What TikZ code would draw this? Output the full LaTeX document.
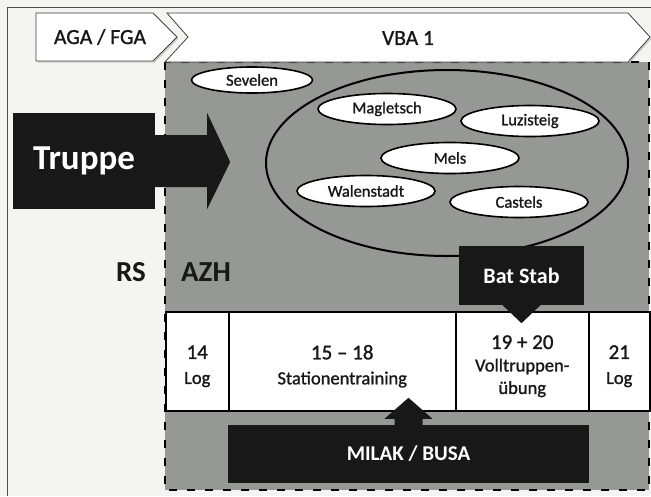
\documentclass[tikz,border=0pt]{standalone}
\usepackage{fontspec}
\setmainfont{Carlito}
\newfontfamily\thickfont{Carlito}[FakeBold=1.2,Ligatures=TeX]
\usetikzlibrary{calc,shapes.geometric,shadows}
\definecolor{paper}{RGB}{244,245,243}
\definecolor{zone}{RGB}{150,152,148}
\definecolor{ink}{RGB}{24,24,24}
\tikzset{
  chevron/.style={draw=black!75, line width=0.8pt, fill=white,
    drop shadow={shadow xshift=1.5pt, shadow yshift=-1.5pt, opacity=.35}},
  place/.style={ellipse, draw=black, line width=1.6pt, fill=white, inner sep=0pt,
    minimum width=138pt, minimum height=31pt, text=ink,
    font=\thickfont\fontsize{16.5}{18}\selectfont,
    drop shadow={shadow xshift=1.2pt, shadow yshift=-1.2pt, opacity=.35}},
  block/.style={fill=ink, text=white, inner sep=0pt,
    font=\bfseries\fontsize{22}{24}\selectfont},
  cell/.style={draw=black, line width=1.5pt, fill=white, anchor=north west,
    inner sep=0pt, minimum height=99pt},
  celltext/.style={align=center, text=ink, font=\thickfont\fontsize{18.5}{25}\selectfont},
  zonelabel/.style={text=ink, font=\bfseries\fontsize{29}{30}\selectfont}
}
\begin{document}
\begin{tikzpicture}[x=1pt,y=-1pt]
    \fill[paper] (0,0) rectangle (651,496);
    \useasboundingbox (0,0) rectangle (651,496);
    \draw[black!70, line width=1pt] (7,496) -- (7,7) -- (651,7);

    \fill[zone] (165,62) rectangle (649,490);
    \draw[line width=2pt, dash pattern=on 8pt off 10pt] (165,62) rectangle (649,490);

    \draw[chevron] (36,13) -- (153,13) -- (177,37) -- (153,61) -- (36,61) -- cycle;
    \draw[chevron] (167,13) -- (628,13) -- (650,37) -- (628,62) -- (165,62) -- (188,37) -- cycle;
    \node[font=\thickfont\fontsize{21.5}{24}\selectfont, text=ink] (aga) at (100,37) {AGA / FGA};
    \node[font=\thickfont\fontsize{21.5}{24}\selectfont, text=ink] (vba) at (408,38) {VBA 1};

    \draw[line width=2pt] (447,163) ellipse [x radius=181, y radius=93];
    \node[place, minimum width=121pt, minimum height=26pt] (sevelen) at (252,80) {Sevelen};
    \node[place] (magletsch) at (387,109) {Magletsch};
    \node[place] (luzisteig) at (530,121) {Luzisteig};
    \node[place] (mels) at (450,158) {Mels};
    \node[place] (walenstadt) at (366,191) {Walenstadt};
    \node[place] (castels) at (519,202) {Castels};

    \node[block, minimum width=142pt, minimum height=96pt,
      font=\bfseries\fontsize{35}{36}\selectfont] (truppe) at (84,161) {Truppe};
    \coordinate (T) at (truppe.east);
    \fill[ink] ($(T)+(0,-26)$) -- ($(T)+(52,-26)$) -- ($(T)+(52,-48)$) -- ($(T)+(75,1)$)
      -- ($(T)+(52,48)$) -- ($(T)+(52,26)$) -- ($(T)+(0,26)$) -- cycle;

    \node[zonelabel] (rs) at (131,272) {RS};
    \node[zonelabel] (azh) at (206,272) {AZH};

    \node[cell, minimum width=63pt] (c14) at (165,311) {};
    \node[cell, minimum width=227pt] (c15) at (228,311) {};
    \node[cell, minimum width=133pt] (c19) at (455,311) {};
    \node[cell, minimum width=61pt] (c21) at (588,311) {};
    \node[celltext] at ($(c14.center)+(0,5)$) {{\fontsize{21}{25}\selectfont 14}\\Log};
    \node[celltext] at ($(c15.center)+(0,5)$) {{\fontsize{21}{25}\selectfont 15 – 18}\\Stationentraining};
    \node[celltext, font=\thickfont\fontsize{18.5}{22.5}\selectfont] at ($(c19.center)+(0,5)$)
      {{\fontsize{21}{22.5}\selectfont 19 + 20}\\Volltruppen-\\übung};
    \node[celltext] at ($(c21.center)+(0,5)$) {{\fontsize{21}{25}\selectfont 21}\\Log};

    \node[block, minimum width=125pt, minimum height=59pt] (batstab) at (521.5,275.5) {Bat Stab};
    \coordinate (B) at (batstab.south);
    \fill[ink] ($(B)+(-20,-1)$) -- ($(B)+(20,-1)$) -- ($(B)+(0,18)$) -- cycle;

    \node[block, minimum width=361pt, minimum height=58pt,
      font=\bfseries\fontsize{21}{24}\selectfont] (milak) at (408.5,454) {MILAK / BUSA};
    \coordinate (M) at (milak.north);
    \fill[ink] ($(M)+(-14,0)$) -- ($(M)+(-14,-6)$) -- ($(M)+(-24,-6)$) -- ($(M)+(0,-27)$)
      -- ($(M)+(24,-6)$) -- ($(M)+(14,-6)$) -- ($(M)+(14,0)$) -- cycle;
\end{tikzpicture}
\end{document}
